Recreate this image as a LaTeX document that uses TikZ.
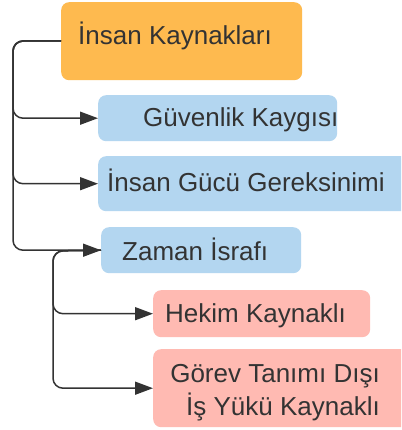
\documentclass[tikz,border=0pt]{standalone}
\usepackage{fontspec}
\setmainfont{Liberation Sans}
\usetikzlibrary{arrows.meta}
\definecolor{orangebox}{HTML}{FEBA4F}
\definecolor{bluebox}{HTML}{B3D6F0}
\definecolor{pinkbox}{HTML}{FFBAB2}
\definecolor{ink}{HTML}{333333}
\tikzset{
  box/.style={draw=none, rounded corners=8pt, inner sep=0pt, anchor=north west},
  lbl/.style={inner sep=0pt, text=ink, font=\fontsize{26}{33}\selectfont},
  conn/.style={draw=ink, line width=1.5pt, rounded corners=10pt,
    -{Triangle[length=18pt,width=13pt]}},
}
\begin{document}
\begin{tikzpicture}[x=1pt,y=-1pt]
\clip (0,0) rectangle (401,430);
\fill[white] (0,0) rectangle (401,430);

% boxes
\node[box, fill=orangebox, minimum width=241pt, minimum height=78pt] (b1) at (61,2) {};
\node[box, fill=bluebox, minimum width=239pt, minimum height=46pt] (b2) at (98,95) {};
\node[box, fill=bluebox, minimum width=320pt, minimum height=55pt] (b3) at (98,156) {};
\node[box, fill=bluebox, minimum width=200pt, minimum height=46pt] (b4) at (101,227) {};
\node[box, fill=pinkbox, minimum width=217pt, minimum height=47pt] (b5) at (153,290) {};
\node[box, fill=pinkbox, minimum width=265pt, minimum height=78pt] (b6) at (153,349) {};

% labels
\node[lbl, anchor=base west] (t1) at (78,45) {İnsan Kaynakları};
\node[lbl, anchor=base west] (t2) at (143,127) {Güvenlik Kaygısı};
\node[lbl, anchor=base west] (t3) at (107,192) {İnsan Gücü Gereksinimi};
\node[lbl, anchor=base west] (t4) at (122,260) {Zaman İsrafı};
\node[lbl, anchor=base west] (t5) at (165,322) {Hekim Kaynaklı};
\node[lbl, anchor=base east] (t6a) at (380,382) {Görev Tanımı Dışı};
\node[lbl, anchor=base east] (t6b) at (380,415) {İş Yükü Kaynaklı};

% connectors: two trunks with rounded branches
\coordinate (trunkA) at (13,41);
\coordinate (trunkB) at (53,251);
\draw[conn] (trunkA -| b1.west) -- (trunkA) |- (b2.west);
\draw[conn] (trunkA -| b1.west) -- (trunkA) |- (b3.west);
\draw[conn] (trunkA -| b1.west) -- (trunkA) |- (b4.west);
\draw[conn] (b4.west) -- (trunkB) |- (b5.west);
\draw[conn] (b4.west) -- (trunkB) |- (b6.west);
\end{tikzpicture}
\end{document}
